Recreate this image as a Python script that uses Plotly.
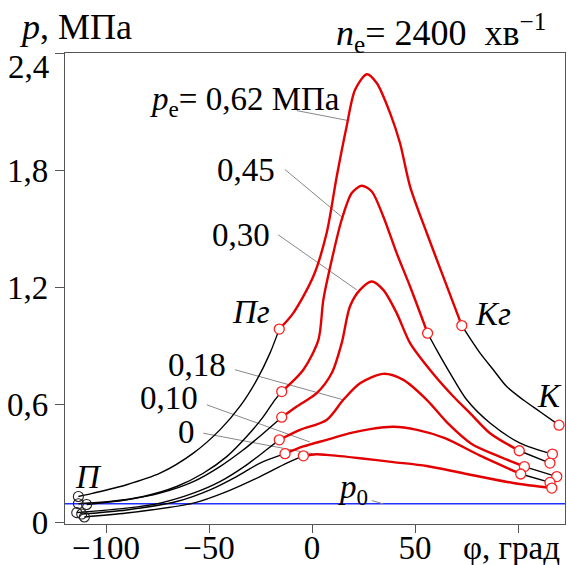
import plotly.graph_objects as go

# ---- data (crank angle phi, deg ; pressure p, MPa) ----
P0 = 0.094

comp_062_x = [-113.4, -106.2, -90.0, -73.8, -57.6, -44.7, -35.0, -26.8, -20.4, -15.9]
comp_062_y = [0.131, 0.148, 0.191, 0.250, 0.353, 0.472, 0.592, 0.728, 0.865, 0.988]
comb_062_x = [-15.9, -9.1, 0.6, 7.1, 12.0, 16.8, 20.9, 26.6, 31.4, 37.9, 42.7, 47.6, 55.7, 63.7, 72.7]
comb_062_y = [0.988, 1.070, 1.257, 1.480, 1.770, 2.026, 2.214, 2.293, 2.248, 2.094, 1.941, 1.718, 1.480, 1.257, 1.006]
exp_062_x = [72.7, 81.6, 88.0, 94.5, 102.6, 110.7, 119.9]
exp_062_y = [1.006, 0.865, 0.780, 0.694, 0.625, 0.565, 0.496]

comp_045_x = [-113.4, -98.1, -81.9, -65.7, -52.8, -41.4, -31.7, -23.6, -18.0, -14.7]
comp_045_y = [0.094, 0.105, 0.131, 0.182, 0.250, 0.335, 0.438, 0.540, 0.626, 0.668]
comb_045_x = [-14.7, -4.2, 3.1, 5.5, 9.6, 14.4, 19.3, 24.1, 29.0, 34.6, 41.1, 47.6, 56.1]
comb_045_y = [0.668, 0.780, 0.933, 1.138, 1.343, 1.548, 1.685, 1.722, 1.693, 1.565, 1.377, 1.206, 0.967]
exp_045_x = [56.1, 60.5, 67.0, 75.1, 86.4, 101.0, 116.7]
exp_045_y = [0.967, 0.882, 0.763, 0.626, 0.507, 0.404, 0.348]

comp_030_x = [-109.4, -90.0, -73.8, -57.6, -44.7, -33.3, -23.6, -14.7]
comp_030_y = [0.090, 0.114, 0.148, 0.207, 0.284, 0.370, 0.455, 0.537]
comb_030_x = [-14.7, -7.4, 2.3, 9.6, 14.4, 18.4, 23.3, 29.0, 34.6, 41.1, 47.6, 58.5, 68.6, 76.7, 86.4, 100.6]
comb_030_y = [0.537, 0.592, 0.660, 0.763, 0.916, 1.104, 1.189, 1.232, 1.189, 1.070, 0.916, 0.763, 0.643, 0.558, 0.455, 0.365]
exp_030_x = [100.6, 115.5]
exp_030_y = [0.365, 0.302]

comp_018_x = [-114.2, -90.0, -73.8, -57.6, -44.7, -31.7, -22.1, -15.9]
comp_018_y = [0.048, 0.071, 0.097, 0.148, 0.207, 0.293, 0.370, 0.421]
comb_018_x = [-15.9, -5.8, 7.1, 15.2, 23.3, 34.6, 44.3, 55.7, 66.0, 77.5, 91.3, 103.1]
comb_018_y = [0.421, 0.472, 0.523, 0.626, 0.711, 0.759, 0.728, 0.626, 0.505, 0.400, 0.334, 0.284]
exp_018_x = [103.1, 118.8]
exp_018_y = [0.284, 0.233]

comp_010_x = [-111.8, -90.0, -65.7, -49.5, -36.6, -25.2, -13.1]
comp_010_y = [0.041, 0.062, 0.105, 0.165, 0.233, 0.302, 0.350]
comb_010_x = [-13.1, -4.2, 7.1, 18.4, 28.2, 39.5, 51.0, 64.5, 81.6, 101.3]
comb_010_y = [0.350, 0.387, 0.421, 0.455, 0.476, 0.488, 0.472, 0.430, 0.340, 0.246]
exp_010_x = [101.3, 115.5]
exp_010_y = [0.246, 0.203]

comp_000_x = [-110.5, -90.0, -57.6, -41.4, -25.2, -12.3, -4.2]
comp_000_y = [0.026, 0.046, 0.097, 0.156, 0.233, 0.302, 0.339]
comb_000_x = [-4.2, 2.0, 7.1, 23.3, 39.5, 55.7, 73.4, 97.7, 116.4]
comb_000_y = [0.339, 0.347, 0.344, 0.327, 0.307, 0.287, 0.250, 0.200, 0.174]

x_ticks = [-100, -50, 0, 50, 100]
x_ticktext = ["\u2212100", "\u221250", "0", "50", ""]
y_ticks = [0, 0.6, 1.2, 1.8, 2.4]
y_ticktext = ["0", "0,6", "1,2", "1,8", ""]

curves = [
    (comp_062_x, comp_062_y, comb_062_x, comb_062_y, exp_062_x, exp_062_y),
    (comp_045_x, comp_045_y, comb_045_x, comb_045_y, exp_045_x, exp_045_y),
    (comp_030_x, comp_030_y, comb_030_x, comb_030_y, exp_030_x, exp_030_y),
    (comp_018_x, comp_018_y, comb_018_x, comb_018_y, exp_018_x, exp_018_y),
    (comp_010_x, comp_010_y, comb_010_x, comb_010_y, exp_010_x, exp_010_y),
    (comp_000_x, comp_000_y, comb_000_x, comb_000_y, None, None),
]

# labels: text, x, y (data), xanchor
curve_labels = [
    ("<i>p</i><sub>e</sub>= 0,62 МПа", 14.6, 2.154, "right"),
    ("0,45", -17.1, 1.804, "right"),
    ("0,30", -19.6, 1.471, "right"),
    ("0,18", -40.6, 0.805, "right"),
    ("0,10", -54.4, 0.635, "right"),
    ("0", -56.0, 0.463, "right"),
    ("<i>Пг</i>", -19.6, 1.078, "right"),
    ("<i>П</i>", -108.7, 0.233, "center"),
    ("<i>Кг</i>", 87.9, 1.066, "center"),
    ("<i>К</i>", 115.5, 0.643, "center"),
    ("<i>p</i><sub>0</sub>", 19.9, 0.165, "center"),
]
leaders = [
    (-7.4, 2.107, 17.6, 2.056),
    (-13.1, 1.805, 15.2, 1.556),
    (-16.4, 1.471, 21.7, 1.189),
    (-37.4, 0.780, 15.2, 0.626),
    (-51.0, 0.600, -1.0, 0.410),
    (-52.8, 0.455, 0.6, 0.349),
    (29.0, 0.110, 34.6, 0.093),
]

RED = "#e30000"
FONT = "Liberation Serif"

fig = go.Figure()
fig.add_hline(y=P0, line=dict(color="#2030ff", width=1.4), layer="below")

for cx, cy, bx, by, ex, ey in curves:
    fig.add_trace(go.Scatter(x=cx, y=cy, mode="lines",
                             line=dict(color="black", width=1.4, shape="spline", smoothing=0.8),
                             hoverinfo="skip"))
    if ex is not None:
        fig.add_trace(go.Scatter(x=ex, y=ey, mode="lines",
                                 line=dict(color="black", width=1.4, shape="spline", smoothing=0.8),
                                 hoverinfo="skip"))
    fig.add_trace(go.Scatter(x=bx, y=by, mode="lines",
                             line=dict(color=RED, width=2.4, shape="spline", smoothing=0.8),
                             hoverinfo="skip"))

for cx, cy, bx, by, ex, ey in curves:
    mx = [bx[0], bx[-1]] + ([ex[-1]] if ex is not None else [])
    my = [by[0], by[-1]] + ([ey[-1]] if ey is not None else [])
    fig.add_trace(go.Scatter(x=mx, y=my, mode="markers",
                             marker=dict(symbol="circle", size=10, color="white",
                                         line=dict(color="#ff2020", width=1.3)),
                             hoverinfo="skip", cliponaxis=False))
    fig.add_trace(go.Scatter(x=[cx[0]], y=[cy[0]], mode="markers",
                             marker=dict(symbol="circle", size=10, color="rgba(255,255,255,0)",
                                         line=dict(color="#222", width=1.1)),
                             hoverinfo="skip", cliponaxis=False))

for x0, y0, x1, y1 in leaders:
    fig.add_shape(type="line", x0=x0, y0=y0, x1=x1, y1=y1,
                  line=dict(color="#888", width=1), layer="below")

for t, x, y, xa in curve_labels:
    fig.add_annotation(text=t, x=x, y=y, xref="x", yref="y", xanchor=xa, yanchor="middle",
                       showarrow=False, font=dict(family=FONT, size=33, color="black"))

fig.add_annotation(text="<i>p</i>, МПа", x=-0.096, y=1.055, xref="paper", yref="paper",
                   xanchor="left", yanchor="middle", showarrow=False,
                   font=dict(family=FONT, size=36, color="black"))
fig.add_annotation(text="<i>n</i><sub>e</sub>= 2400\u00a0\u00a0хв<sup>\u22121</sup>", x=0.966, y=1.042,
                   xref="paper", yref="paper", xanchor="right", yanchor="middle", showarrow=False,
                   font=dict(family=FONT, size=36, color="black"))
fig.add_annotation(text="2,4", x=-0.028, y=2.331, xref="paper", yref="y",
                   xanchor="right", yanchor="middle", showarrow=False,
                   font=dict(family=FONT, size=33, color="black"))
fig.add_annotation(text="φ, град", x=0.994, y=-0.05, xref="paper", yref="paper",
                   xanchor="right", yanchor="middle", showarrow=False,
                   font=dict(family=FONT, size=33, color="black"))

fig.update_layout(
    width=567, height=565,
    margin=dict(l=65, r=2, t=53, b=41, autoexpand=False),
    plot_bgcolor="white", paper_bgcolor="white",
    showlegend=False,
    font=dict(family=FONT, size=33, color="black"),
)
fig.update_xaxes(range=[-119.9, 122.8], showgrid=False, zeroline=False, automargin=False,
                 showline=True, linecolor="#555", linewidth=1.3, mirror=True,
                 ticks="outside", ticklen=8, tickcolor="#555", tickwidth=1.3,
                 ticklabelstandoff=-14,
                 tickvals=x_ticks, ticktext=x_ticktext,
                 tickfont=dict(family=FONT, size=33, color="black"))
fig.update_yaxes(range=[-0.010, 2.402], showgrid=False, zeroline=False, automargin=False,
                 showline=True, linecolor="#555", linewidth=1.3, mirror=True,
                 ticks="outside", ticklen=9, tickcolor="#555", tickwidth=1.3,
                 tickvals=y_ticks, ticktext=y_ticktext,
                 tickfont=dict(family=FONT, size=33, color="black"))

fig.write_html("out.html")
